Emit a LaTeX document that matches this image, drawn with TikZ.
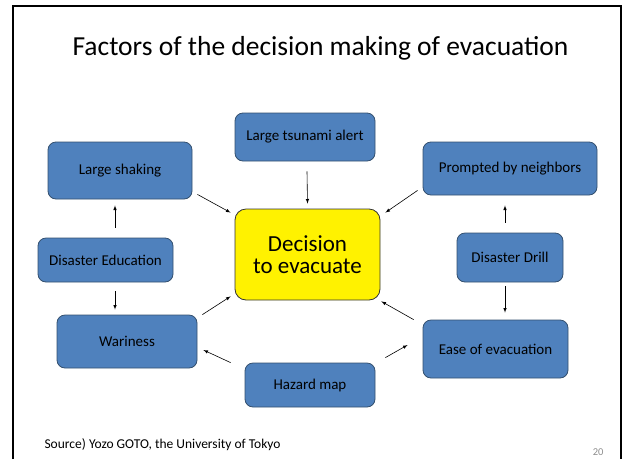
\documentclass[tikz,border=0pt]{standalone}
\usepackage{fontspec}
\setmainfont{Carlito}
\usepackage{xcolor}
\usepackage{tikz}
\usetikzlibrary{calc, positioning}

\definecolor{hopxanh}{HTML}{4F81BD}
\definecolor{vienxanh}{HTML}{34506F}
\definecolor{sotrang}{HTML}{8C8C8C}

\tikzset{
    hop/.style={draw=vienxanh, fill=hopxanh, line width=0.8pt, rounded corners=8pt,
        align=center, inner sep=0pt, font=\fontsize{15}{17}\selectfont},
    quyetdinh/.style={draw=black!80, fill=yellow, line width=0.8pt, rounded corners=11pt,
        align=center, inner sep=0pt, font=\fontsize{23}{21.7}\selectfont},
    mt/.style={->, line width=0.6pt}
}

\begin{document}
\begin{tikzpicture}[>=latex, x=1pt, y=-1pt]
    \useasboundingbox (0,0) rectangle (622,459);
    % Khung
    \draw[line width=2pt] (12.5,459) -- (12.5,5.5) -- (620.5,5.5) -- (620.5,459);
    \node[anchor=base, font=\fontsize{27.5}{31}\selectfont] (title) at (320.5,55)
        {Factors of the decision making of evacuation};

    % Các ô
    \node[quyetdinh, minimum width=145, minimum height=91] (decision) at (307.5,254.5) {Decision\\to evacuate};
    \node[hop, minimum width=140, minimum height=48] (tsunami) at (305,137) {Large tsunami alert};
    \node[hop, minimum width=144, minimum height=57] (shaking) at (120,170.5) {Large shaking};
    \node[hop, minimum width=174, minimum height=53] (neighbors) at (510,168.5) {Prompted by neighbors};
    \node[hop, minimum width=135, minimum height=44] (education) at (105.5,260) {Disaster Education};
    \node[hop, minimum width=106, minimum height=49] (drill) at (510,257.5) {Disaster Drill};
    \node[hop, minimum width=140, minimum height=53] (wariness) at (127,341.5) {Wariness};
    \node[hop, minimum width=130, minimum height=44] (hazard) at (310,385) {Hazard map};
    \node[hop, minimum width=145, minimum height=58] (ease) at (495.5,349) {Ease of evacuation};

    % Mũi tên
    \draw[mt] ($(shaking.south east)+(5,-5)$) -- ($(decision.north west)+(-4,4)$);
    \draw[mt] ($(tsunami.south)+(2,10)$) -- ($(decision.north)+(0,-5)$);
    \draw[mt] ($(neighbors.south west)+(-5,-5)$) -- ($(decision.north east)+(5,4)$);
    \draw[mt] ($(education.north)+(9.5,-10)$) -- ($(shaking.south)+(-5,6)$);
    \draw[mt] ($(education.south)+(9.5,9)$) -- ($(wariness.north)+(-12,-5)$);
    \draw[mt] ($(drill.north)+(-5,-10)$) -- ($(neighbors.south)+(-5,10)$);
    \draw[mt] ($(drill.south)+(-5,4)$) -- ($(ease.north)+(9.5,-7)$);
    \draw[mt] ($(wariness.north east)+(5,0)$) -- ($(decision.south west)+(-4,-4)$);
    \draw[mt] ($(ease.north west)+(-9,0)$) -- ($(decision.south east)+(1,1)$);
    \draw[mt] ($(hazard.north east)+(10,-5)$) -- ($(ease.west)+(-15,-4)$);
    \draw[mt] ($(hazard.north west)+(-14,0)$) -- ($(wariness.east)+(6,8.5)$);

    % Nguồn
    \node[anchor=base west, font=\fontsize{13.5}{16}\selectfont] (source) at (41,448)
        {Source) Yozo GOTO, the University of Tokyo};
    \node[anchor=base east, text=sotrang, font=\fontsize{10.5}{12}\selectfont] (page) at (607,455) {20};
\end{tikzpicture}
\end{document}
